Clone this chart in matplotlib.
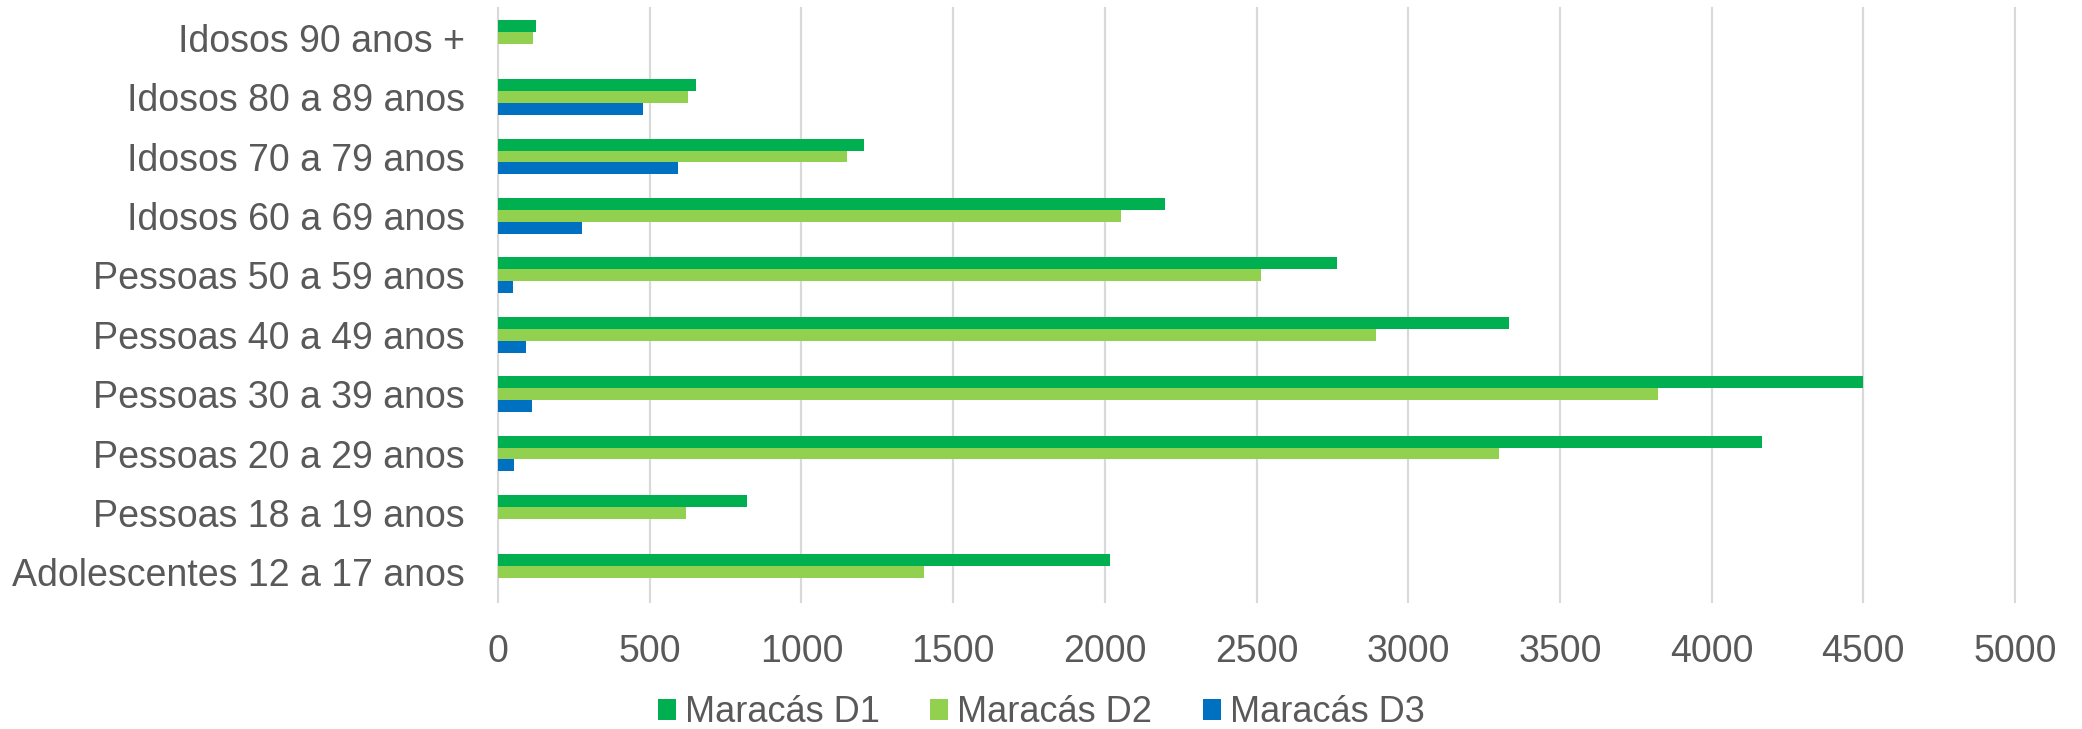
import matplotlib
matplotlib.use("Agg")
import matplotlib.pyplot as plt
import numpy as np

plt.rcParams['font.family'] = ['Liberation Sans', 'DejaVu Sans']

categories = [
    "Adolescentes 12 a 17 anos",
    "Pessoas 18 a 19 anos",
    "Pessoas 20 a 29 anos",
    "Pessoas 30 a 39 anos",
    "Pessoas 40 a 49 anos",
    "Pessoas 50 a 59 anos",
    "Idosos 60 a 69 anos",
    "Idosos 70 a 79 anos",
    "Idosos 80 a 89 anos",
    "Idosos 90 anos +",
]
d1 = [2017, 822, 4167, 4500, 3332, 2764, 2200, 1206, 654, 125]
d2 = [1405, 621, 3298, 3822, 2894, 2514, 2053, 1149, 627, 116]
d3 = [0, 0, 53, 112, 93, 50, 277, 594, 477, 0]
series_names = ["Maracás D1", "Maracás D2", "Maracás D3"]
colors = ["#00B050", "#92D050", "#0070C0"]
xticks = [0, 500, 1000, 1500, 2000, 2500, 3000, 3500, 4000, 4500, 5000]

text_color = "#595959"
fig = plt.figure(figsize=(20.82, 7.29), dpi=100)
ax = fig.add_axes([498/2082, 1-602/729, (2015-498)/2082, (602-8)/729])

y = np.arange(len(categories))
h = 0.202
for vals, off, c, name in zip([d1, d2, d3], [h, 0, -h], colors, series_names):
    ax.barh(y + off, vals, height=h, color=c, label=name, zorder=3)

ax.set_xlim(0, 5000)
ax.set_ylim(-0.5, len(categories) - 0.5)
ax.set_xticks(xticks)
ax.set_xticklabels([str(t) for t in xticks])
ax.set_yticks(y)
ax.set_yticklabels(categories)
ax.tick_params(axis='both', length=0, labelsize=27, colors=text_color)
ax.tick_params(axis='x', pad=23)
ax.tick_params(axis='y', pad=24)
for s in ax.spines.values():
    s.set_visible(False)
ax.grid(axis='x', color='#D9D9D9', linewidth=1.5, zorder=0)
ax.set_axisbelow(True)
for t in xticks:
    ax.axvline(t, color='#D9D9D9', linewidth=1.5, zorder=0, clip_on=False)

leg = fig.legend(loc='center', bbox_to_anchor=(0.5, 1-713/729), ncol=3, frameon=False,
                 fontsize=26, handlelength=0.5, handleheight=0.5, handletextpad=0.25,
                 columnspacing=1.4, borderaxespad=0)
for t in leg.get_texts():
    t.set_color(text_color)

fig.savefig("out.png", dpi=100, facecolor='white')
